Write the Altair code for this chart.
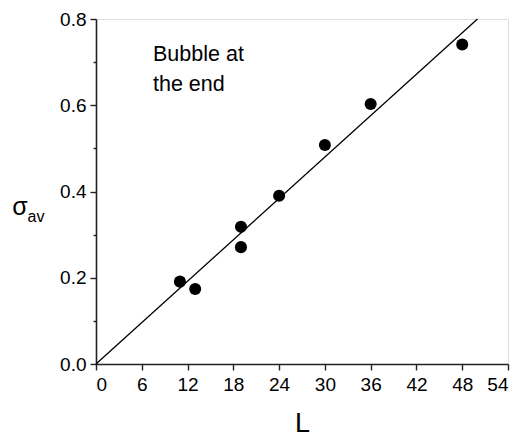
import altair as alt
import pandas as pd

# data
L_vals = [11, 13, 19, 19, 24, 30, 36, 48]
sigma_vals = [0.191, 0.174, 0.318, 0.271, 0.390, 0.508, 0.603, 0.741]
fit_L = [0, 50]
fit_sigma = [0.0, 0.8]
x_ticks = list(range(0, 55, 3))
y_ticks = [round(i * 0.1, 1) for i in range(0, 9)]

pts = pd.DataFrame({"L": L_vals, "s": sigma_vals})
fit = pd.DataFrame({"L": fit_L, "s": fit_sigma})

FONT = "Liberation Sans"
W, H = 412, 345

xscale = alt.Scale(domain=[0, 54], nice=False, zero=False)
yscale = alt.Scale(domain=[0, 0.8], nice=False, zero=False)

xaxis = alt.Axis(
    values=x_ticks,
    labelExpr="datum.value % 6 == 0 ? datum.label : ''",
    tickSize={"condition": {"test": "datum.value % 6 == 0", "value": 6}, "value": 3},
    grid=False,
    title="L",
    titleFontSize=27,
    titleFontWeight="normal",
    titleFont=FONT,
    titlePadding=16,
    labelFont=FONT,
    labelFontSize=19,
    labelPadding=5,
    labelColor="#000",
    titleColor="#000",
    domainColor="#222",
    domainWidth=1.6,
    tickColor="#222",
    tickWidth=1.4,
)
yaxis = alt.Axis(
    values=y_ticks,
    format=".1f",
    labelExpr="round(datum.value*10) % 2 == 0 ? datum.label : ''",
    tickSize={"condition": {"test": "round(datum.value*10) % 2 == 0", "value": 6}, "value": 3},
    grid=False,
    title=None,
    labelFont=FONT,
    labelFontSize=19,
    labelPadding=4,
    labelColor="#000",
    domainColor="#222",
    domainWidth=1.6,
    tickColor="#222",
    tickWidth=1.4,
)

line = alt.Chart(fit).mark_line(color="black", strokeWidth=1.3).encode(
    x=alt.X("L:Q", scale=xscale, axis=xaxis),
    y=alt.Y("s:Q", scale=yscale, axis=yaxis),
)
points = alt.Chart(pts).mark_circle(color="black", opacity=1, size=145).encode(
    x=alt.X("L:Q", scale=xscale),
    y=alt.Y("s:Q", scale=yscale),
)

ann = alt.Chart(pd.DataFrame({"t": [["Bubble at", "the end"]]})).mark_text(
    align="left", baseline="alphabetic", font=FONT, fontSize=21.5, lineHeight=30, color="black"
).encode(x=alt.value(57), y=alt.value(42), text="t:N")

sig = alt.Chart(pd.DataFrame({"t": ["σ"]})).mark_text(
    align="center", baseline="alphabetic", font=FONT, fontSize=25, color="black"
).encode(x=alt.value(-76), y=alt.value(196), text="t:N")
av = alt.Chart(pd.DataFrame({"t": ["av"]})).mark_text(
    align="center", baseline="alphabetic", font=FONT, fontSize=16, color="black"
).encode(x=alt.value(-60), y=alt.value(203), text="t:N")

chart = alt.layer(line, points, ann, sig, av).properties(
    width=W, height=H,
    autosize="none",
    padding={"left": 88, "top": 11, "right": 10, "bottom": 76},
).configure_view(stroke=None).configure(background="white")

chart.save("out.html", embed_options={"renderer": "svg", "actions": False})
